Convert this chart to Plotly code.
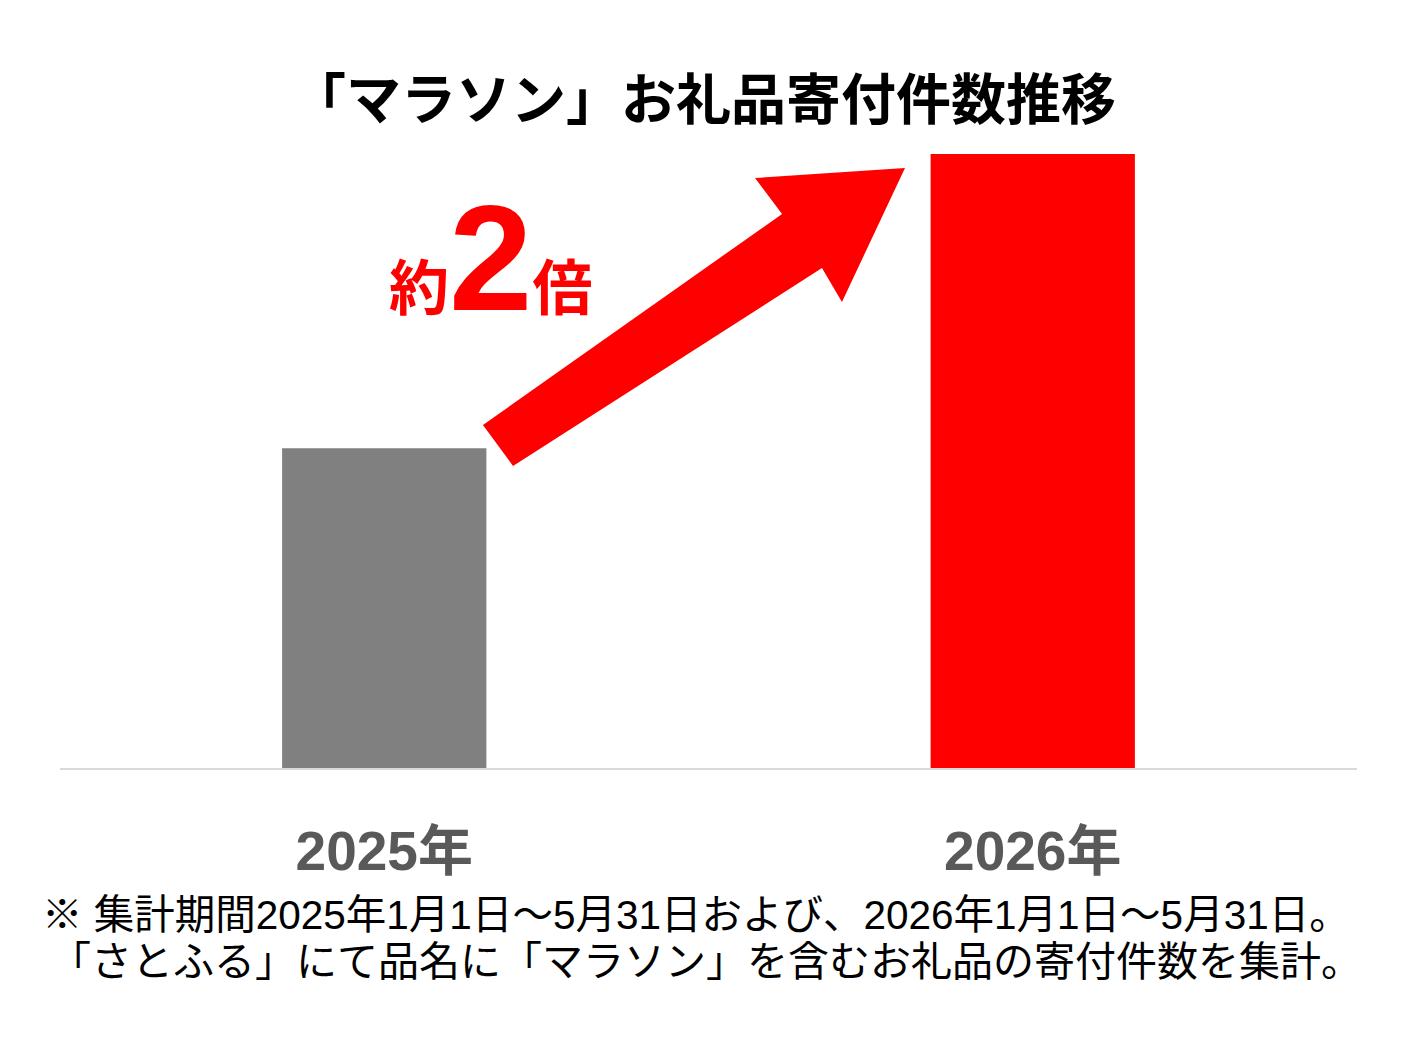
import plotly.graph_objects as go

# ---- data ----
years = ["2025年", "2026年"]
donations = [100, 192]          # relative donation count (2025 = 100)
bar_colors = ["#808080", "#ff0000"]

title_text = "「マラソン」お礼品寄付件数推移"
ratio_label = "約<span style='font-size:150px'>2</span>倍"
note_line1 = "※ 集計期間2025年1月1日～5月31日および、2026年1月1日～5月31日。"
note_line2 = "「さとふる」にて品名に「マラソン」を含むお礼品の寄付件数を集計。"

OFF = 8  # page body margin
W, H = 1417 - OFF, 1038 - OFF
# plot area in reference-image pixels
X0, X1, Y0, Y1 = 60, 1357, 154, 768
ML, MT = X0 - OFF, Y0 - OFF
MR, MB = W - (X1 - OFF), H - (Y1 - OFF)
PW, PH = X1 - X0, Y1 - Y0

def px2paper(x, y):
    return (x - X0) / PW, (Y1 - y) / PH

FONT = "Liberation Sans, Noto Sans CJK JP, sans-serif"

fig = go.Figure(go.Bar(
    x=years, y=donations, marker=dict(color=bar_colors, line=dict(width=0)),
    hoverinfo="x+y",
))

# decorative arrow
arrow_px = [(483, 425), (782, 214), (755, 178), (905, 168), (842, 302), (822, 268), (513, 466)]
pts = [px2paper(x, y) for x, y in arrow_px]
path = "M " + " L ".join(f"{x:.4f},{y:.4f}" for x, y in pts) + " Z"
fig.add_shape(type="path", xref="paper", yref="paper", path=path,
              fillcolor="#ff0000", line=dict(width=0), layer="above")

ann = []
ann.append(dict(text=title_text, x=px2paper(703, 0)[0], y=px2paper(0, 100)[1],
                xref="paper", yref="paper", xanchor="center", yanchor="middle",
                showarrow=False, font=dict(family=FONT, size=55, color="#000000", weight="bold")))
ann.append(dict(text=ratio_label, x=px2paper(490, 0)[0], y=px2paper(0, 344)[1],
                xref="paper", yref="paper", xanchor="center", yanchor="bottom",
                showarrow=False, font=dict(family=FONT, size=60, color="#ff0000", weight="bold")))
ann.append(dict(text=note_line1, x=px2paper(40, 0)[0], y=px2paper(0, 915)[1],
                xref="paper", yref="paper", xanchor="left", yanchor="middle",
                showarrow=False, font=dict(family=FONT, size=40.5, color="#000000")))
ann.append(dict(text=note_line2, x=px2paper(48, 0)[0], y=px2paper(0, 962)[1],
                xref="paper", yref="paper", xanchor="left", yanchor="middle",
                showarrow=False, font=dict(family=FONT, size=41, color="#000000")))

fig.update_layout(
    width=W, height=H,
    margin=dict(l=ML, r=MR, t=MT, b=MB, pad=0),
    paper_bgcolor="#ffffff", plot_bgcolor="#ffffff",
    bargap=0.685, showlegend=False,
    annotations=ann,
    xaxis=dict(showline=True, linecolor="#d9d9d9", linewidth=2, showgrid=False,
               ticks="", tickfont=dict(family=FONT, size=55, color="#595959", weight="bold"),
               ticklabelstandoff=34, zeroline=False),
    yaxis=dict(range=[0, max(donations)], visible=False, showgrid=False, zeroline=False),
)

fig.write_html("out.html")
